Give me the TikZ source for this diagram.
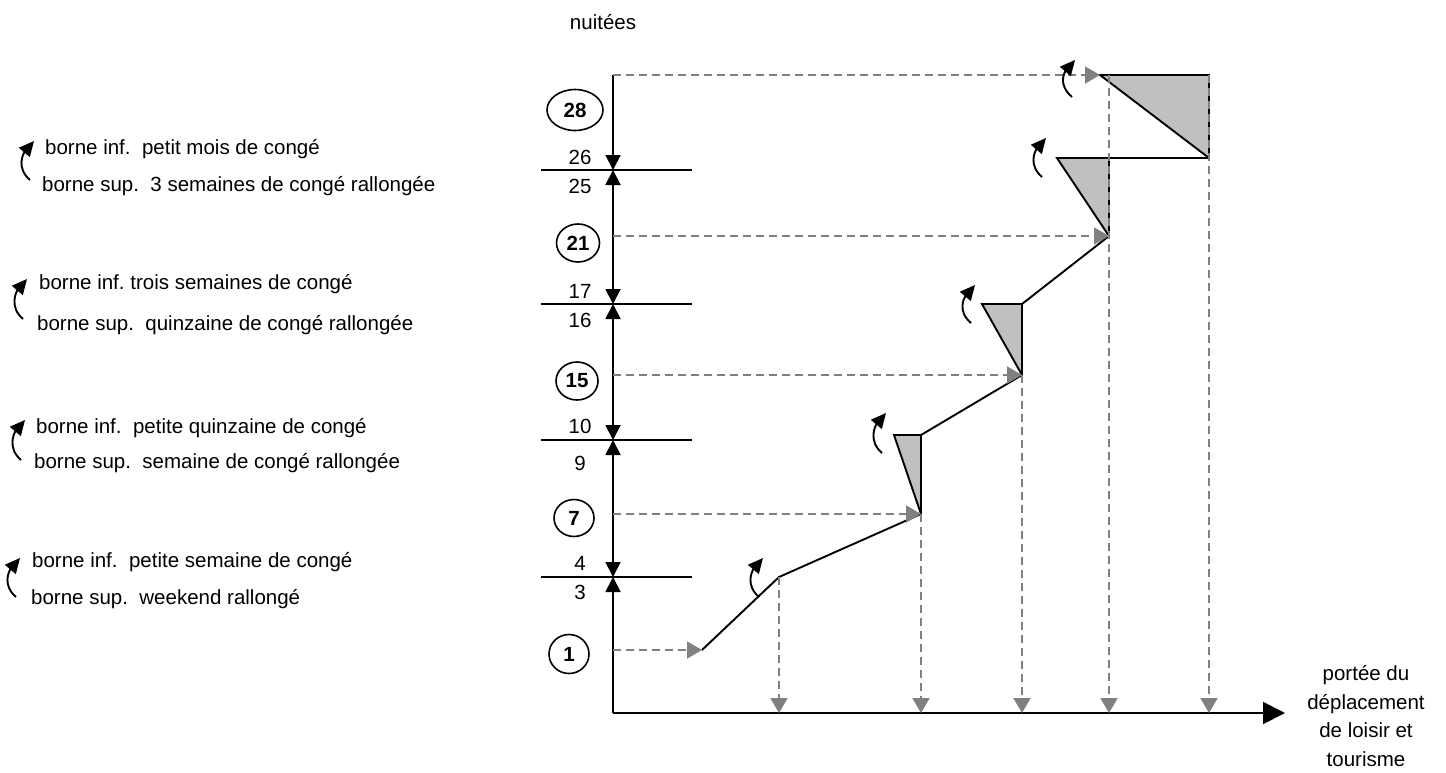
\documentclass[tikz,border=0pt]{standalone}
\usepackage{fontspec}
\setmainfont{Liberation Sans}
\usetikzlibrary{arrows.meta,shapes.geometric}
\definecolor{guidegray}{RGB}{128,128,128}
\definecolor{wedgegray}{RGB}{192,192,192}
\tikzset{axtip/.tip={Triangle[width=15pt,length=15pt]}}
\begin{document}
\frenchspacing
\begin{tikzpicture}[x=1pt,y=-1pt,
  font=\fontsize{20.5}{24}\selectfont,
  axisline/.style={line width=1.9pt,black},
  tickline/.style={line width=1.9pt,black},
  guide/.style={line width=1.9pt,guidegray,dash pattern=on 8pt off 5pt,
    -{Triangle[width=17pt,length=15pt]}},
  stair/.style={line width=1.9pt,black,line join=miter},
  wedge/.style={line width=1.9pt,black,fill=wedgegray,line join=miter},
  bendarrow/.style={line width=1.9pt,black,-{Triangle[width=14pt,length=15pt]}},
  ell/.style={ellipse,draw,line width=1.6pt,inner sep=0pt,font=\fontsize{20.5}{24}\selectfont\bfseries},
  lbl/.style={inner sep=0pt},
  legendtext/.style={anchor=base west,inner sep=0pt}]

\useasboundingbox (0,0) rectangle (1446,772);

% ---------- axes ----------
\coordinate (o)   at (613,713);
\coordinate (top) at (613,75);
\coordinate (t4)  at (613,577);
\coordinate (t10) at (613,440);
\coordinate (t17) at (613,304);
\coordinate (t26) at (613,170);
\coordinate (xend) at (1285,713);

\draw[axisline,-{Triangle[width=22pt,length=22pt]}] (o) -- (xend);
\draw[axisline,-axtip] (o) -- (t4);
\draw[axisline,axtip-axtip] (t10) -- (t4);
\draw[axisline,axtip-axtip] (t17) -- (t10);
\draw[axisline,axtip-axtip] (t26) -- (t17);
\draw[axisline,-axtip] (top) -- (t26);

\foreach \y in {577,440,304,170}
  \draw[tickline] (541,\y) -- (692,\y);

% ---------- scale labels ----------
\node[lbl] (n26) at (580,157) {26};
\node[lbl] (n25) at (580,186) {25};
\node[lbl] (n17) at (580,291) {17};
\node[lbl] (n16) at (580,320) {16};
\node[lbl] (n10) at (580,426) {10};
\node[lbl] (n9)  at (580,463) {9};
\node[lbl] (n4)  at (580,563) {4};
\node[lbl] (n3)  at (580,592) {3};

\node[ell,minimum width=56pt,minimum height=41pt] (e28) at (575,110) {28};
\node[ell,minimum width=43pt,minimum height=38pt] (e21) at (578,243) {21};
\node[ell,minimum width=42pt,minimum height=38pt] (e15) at (577,381) {15};
\node[ell,minimum width=40pt,minimum height=37pt] (e7)  at (574,518) {7};
\node[ell,minimum width=40pt,minimum height=39pt] (e1)  at (569,654) {1};

\node[lbl] (ytitle) at (603,22) {nuitées};
\node[lbl,align=center,anchor=base] (xtitle) at (1366,766)
  {portée du\\[4.5pt]déplacement\\[4.5pt]de loisir et\\[4.5pt]tourisme};

% ---------- stair curve ----------
\coordinate (p1)  at (702,650);
\coordinate (b)   at (779,577);
\coordinate (p7)  at (921,514);
\coordinate (q7)  at (921,435);
\coordinate (r7)  at (894,435);
\coordinate (p15) at (1022,375);
\coordinate (q15) at (1022,304);
\coordinate (r15) at (982,304);
\coordinate (p21) at (1109,236);
\coordinate (q21) at (1109,158);
\coordinate (r21) at (1057,158);
\coordinate (p28) at (1100,75);
\coordinate (u28) at (1209,75);
\coordinate (s28) at (1209,158);

\draw[wedge] (p7) -- (q7) -- (r7) -- cycle;
\draw[wedge] (p15) -- (q15) -- (r15) -- cycle;
\draw[wedge] (p21) -- (q21) -- (r21) -- cycle;
\draw[wedge] (p28) -- (u28) -- (s28) -- cycle;

\draw[stair] (p1) -- (b) -- (p7);
\draw[stair] (q7) -- (p15);
\draw[stair] (q15) -- (p21);
\draw[stair] (q21) -- (s28);

% ---------- projection guides ----------
\draw[guide] (613,75)  -- (p28);
\draw[guide] (613,236) -- (p21);
\draw[guide] (613,375) -- (p15);
\draw[guide] (613,514) -- (p7);
\draw[guide] (613,650) -- (p1);

\draw[guide] (b)   -- (779,713);
\draw[guide] (p7)  -- (921,713);
\draw[guide] (p15) -- (1022,713);
\draw[guide] (1109,75) -- (1109,713);
\draw[guide] (u28) -- (1209,713);

% ---------- bend markers on the curve ----------
\draw[bendarrow] (759,597)  .. controls +(-14,-12) and +(-11,13) .. (763,558);
\draw[bendarrow] (882,453)  .. controls +(-14,-12) and +(-11,13) .. (886,413);
\draw[bendarrow] (971,323)  .. controls +(-14,-12) and +(-11,13) .. (975,285);
\draw[bendarrow] (1042,177) .. controls +(-14,-12) and +(-11,13) .. (1046,138);
\draw[bendarrow] (1072,97)  .. controls +(-14,-12) and +(-11,13) .. (1075,60);

% ---------- legend ----------
\draw[bendarrow] (30,180) .. controls +(-14,-12) and +(-11,13) .. (34,141);
\node[legendtext] (i28) at (45,154) {borne inf.\ \ petit mois de congé};
\node[legendtext] (s25) at (42,191) {borne sup.\ \ 3 semaines de congé rallongée};

\draw[bendarrow] (23,319) .. controls +(-14,-12) and +(-11,13) .. (27,279);
\node[legendtext] (i17) at (39,289) {borne inf. trois semaines de congé};
\node[legendtext] (s16) at (37,330) {borne sup.\ \ quinzaine de congé rallongée};

\draw[bendarrow] (21,460) .. controls +(-14,-12) and +(-11,13) .. (25,420);
\node[legendtext] (i10) at (36,433) {borne inf.\ \ petite quinzaine de congé};
\node[legendtext] (s9)  at (34,468) {borne sup.\ \ semaine de congé rallongée};

\draw[bendarrow] (16,597) .. controls +(-14,-12) and +(-11,13) .. (20,558);
\node[legendtext] (i4) at (32,567) {borne inf.\ \ petite semaine de congé};
\node[legendtext] (s3) at (31,604) {borne sup.\ \ weekend rallongé};

\end{tikzpicture}
\end{document}
